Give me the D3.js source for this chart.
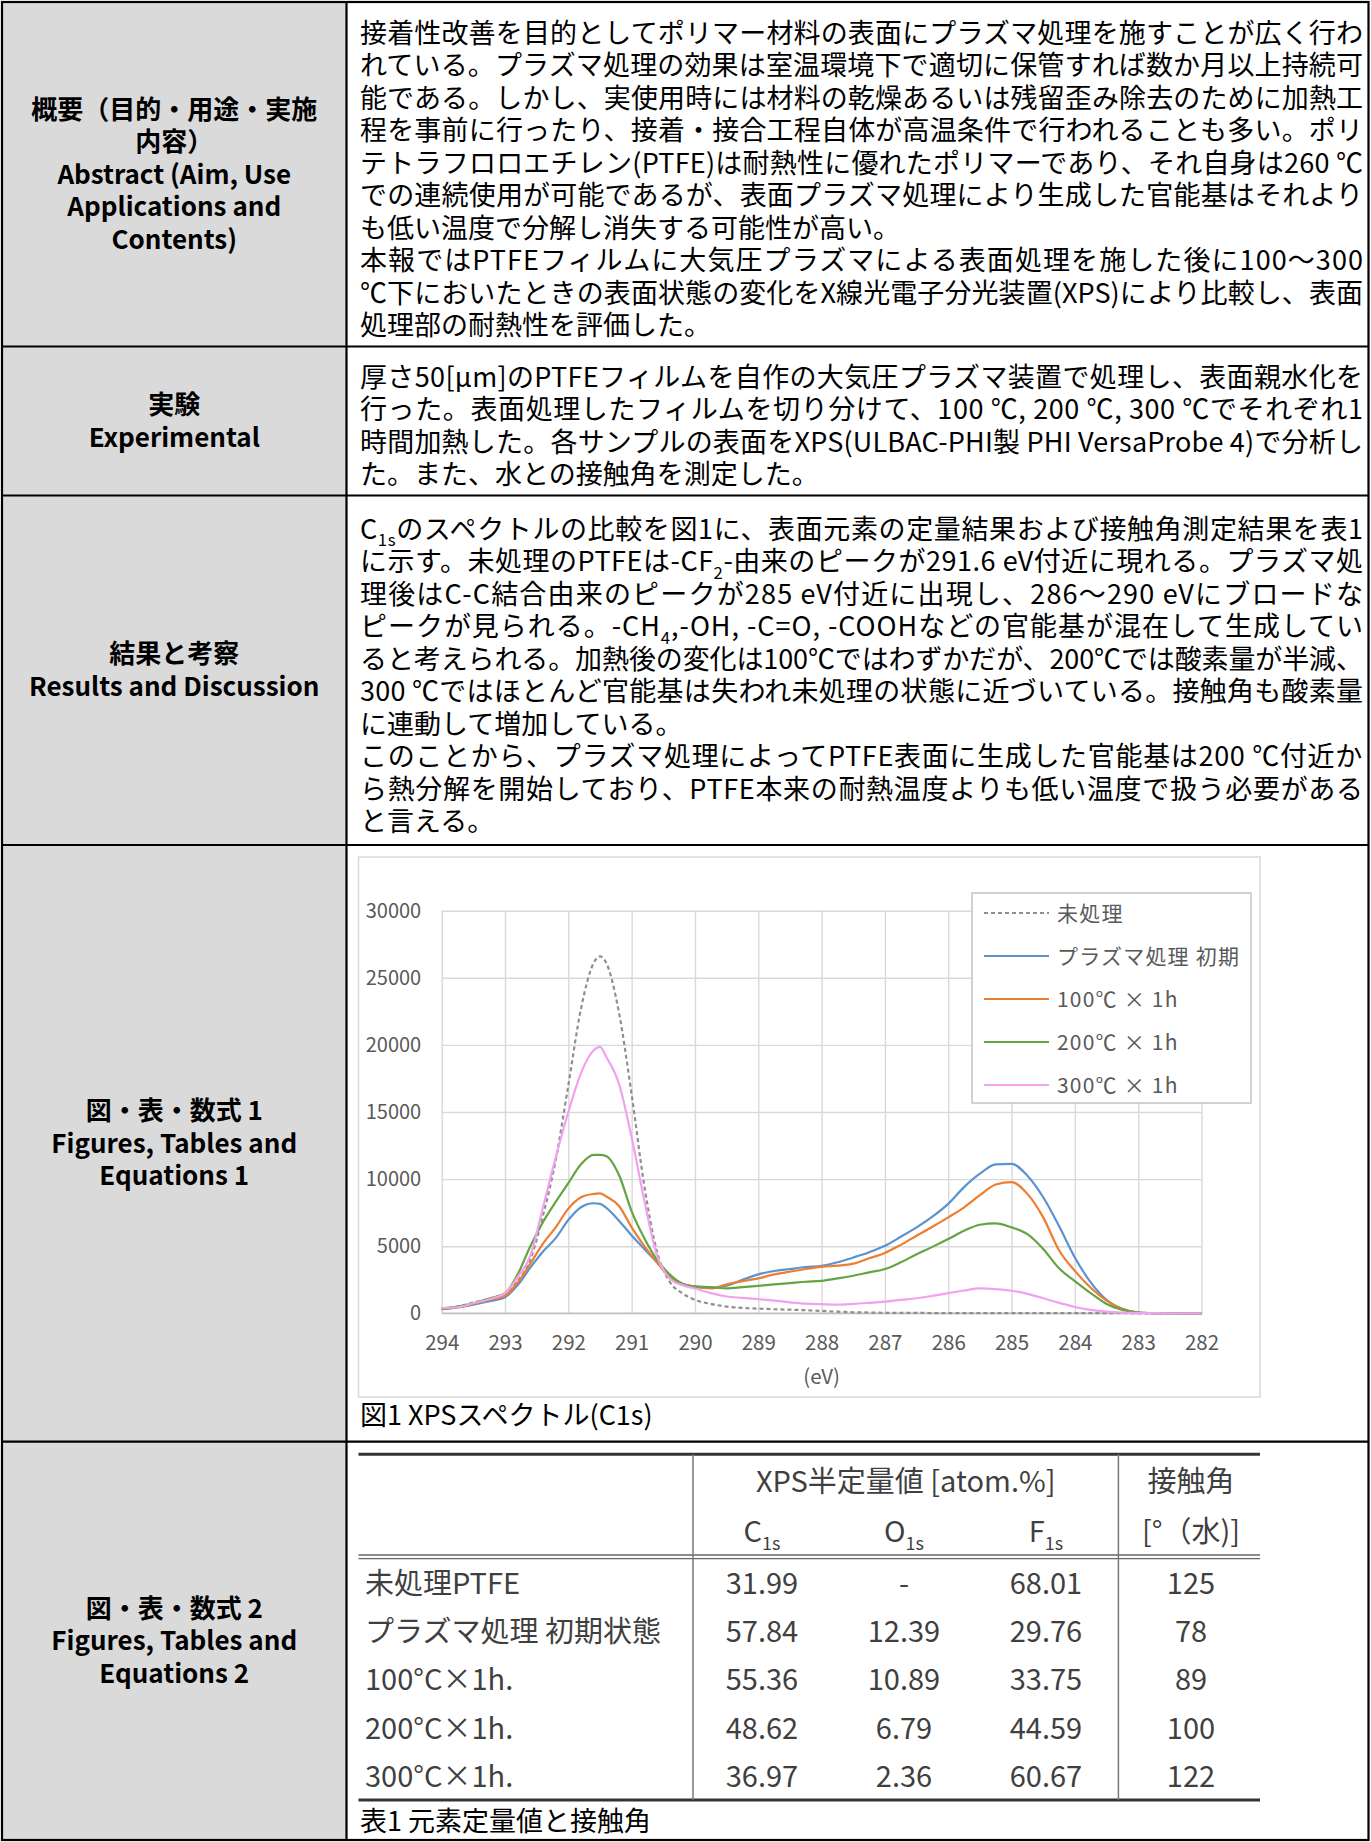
<!DOCTYPE html>
<html><head><meta charset="utf-8">
<script src="https://cdn.jsdelivr.net/npm/d3@7"></script>
<style>body{margin:0;background:#fff}svg{display:block}</style>
</head><body><script>
// ---------------- DATA ----------------
const energy = [294, 293.75, 293.5, 293.25, 293, 292.8, 292.6, 292.4, 292.2, 292, 291.8, 291.6, 291.5, 291.4, 291.2, 291, 290.8, 290.6, 290.4, 290.2, 290, 289.75, 289.5, 289.25, 289, 288.75, 288.5, 288.25, 288, 287.75, 287.5, 287.25, 287, 286.75, 286.5, 286.25, 286, 285.75, 285.5, 285.25, 285, 284.75, 284.5, 284.25, 284, 283.75, 283.5, 283.25, 283, 282.75, 282.5, 282.25, 282];
const untreated = [350, 500, 800, 1100, 1500, 2400, 4000, 7300, 11400, 17000, 22700, 26100, 26600, 26100, 22400, 16300, 9500, 4600, 2350, 1500, 1000, 700, 500, 400, 350, 300, 270, 230, 180, 120, 80, 60, 40, 30, 30, 20, 20, 20, 20, 20, 20, 20, 10, 10, 10, 10, 10, 10, 0, 0, 0, 0, 0];
const plasmaInitial = [300, 430, 650, 900, 1200, 2100, 3400, 4600, 5600, 6950, 7900, 8200, 8150, 7850, 6900, 5800, 4800, 3800, 2800, 2200, 1950, 1900, 2050, 2500, 2900, 3150, 3300, 3450, 3540, 3800, 4160, 4550, 5030, 5700, 6400, 7200, 8150, 9400, 10400, 11100, 11140, 10250, 8650, 6500, 4160, 2300, 1000, 330, 60, 20, 10, 0, 0];
const heat100 = [300, 450, 700, 1000, 1300, 2300, 3700, 5200, 6400, 7800, 8650, 8900, 8940, 8700, 8000, 6400, 5000, 3800, 2700, 2200, 2000, 1860, 2150, 2400, 2600, 2900, 3100, 3300, 3460, 3550, 3700, 4100, 4500, 5100, 5780, 6450, 7150, 7900, 8800, 9600, 9770, 8900, 7150, 4700, 3160, 1900, 950, 320, 60, 20, 10, 0, 0];
const heat200 = [350, 500, 750, 1100, 1500, 2900, 5000, 6800, 8300, 9700, 11100, 11800, 11800, 11700, 10300, 7600, 5600, 4000, 2900, 2200, 2000, 1950, 1850, 1950, 2050, 2150, 2250, 2350, 2420, 2600, 2800, 3050, 3300, 3800, 4400, 4950, 5530, 6150, 6600, 6700, 6400, 5900, 4800, 3350, 2400, 1500, 700, 250, 60, 20, 10, 0, 0];
const heat300 = [400, 450, 750, 1050, 1500, 2700, 4300, 7900, 11600, 15000, 17900, 19600, 19850, 19100, 17100, 13100, 8400, 4300, 2600, 2100, 1850, 1500, 1250, 1150, 1050, 950, 820, 720, 680, 650, 700, 780, 870, 1000, 1120, 1300, 1500, 1700, 1850, 1800, 1680, 1450, 1120, 780, 470, 260, 120, 50, 20, 10, 0, 0, 0];
const seriesNames = ["未処理", "プラズマ処理 初期", "100℃ × 1h", "200℃ × 1h", "300℃ × 1h"];
const xTickValues = [294, 293, 292, 291, 290, 289, 288, 287, 286, 285, 284, 283, 282];
const yTickValues = [0, 5000, 10000, 15000, 20000, 25000, 30000];
const xAxisTitle = "(eV)";
const figCaption = "図1 XPSスペクトル(C1s)";

const tableRowLabels = ["未処理PTFE", "プラズマ処理 初期状態", "100°C×1h.", "200°C×1h.", "300°C×1h."];
const c1s = [31.99, 57.84, 55.36, 48.62, 36.97];
const o1s = [null, 12.39, 10.89, 6.79, 2.36];
const f1s = [68.01, 29.76, 33.75, 44.59, 60.67];
const contactAngle = [125, 78, 89, 100, 122];
const tableHeaderTop = ["XPS半定量値 [atom.%]", "接触角"];
const tableHeaderSub = ["C_{1s}", "O_{1s}", "F_{1s}", "[°（水)]"];
const tableCaption = "表1 元素定量値と接触角";

const leftLabels = [
  ["概要（目的・用途・実施", "内容）", "Abstract (Aim, Use", "Applications and", "Contents)"],
  ["実験", "Experimental"],
  ["結果と考察", "Results and Discussion"],
  ["図・表・数式 1", "Figures, Tables and", "Equations 1"],
  ["図・表・数式 2", "Figures, Tables and", "Equations 2"]
];
const abstractParas = [
  ["接着性改善を目的としてポリマー材料の表面にプラズマ処理を施すことが広く行わ",
   "れている。プラズマ処理の効果は室温環境下で適切に保管すれば数か月以上持続可",
   "能である。しかし、実使用時には材料の乾燥あるいは残留歪み除去のために加熱工",
   "程を事前に行ったり、接着・接合工程自体が高温条件で行われることも多い。ポリ",
   "テトラフロロエチレン(PTFE)は耐熱性に優れたポリマーであり、それ自身は260 ℃",
   "での連続使用が可能であるが、表面プラズマ処理により生成した官能基はそれより",
   "も低い温度で分解し消失する可能性が高い。"],
  ["本報ではPTFEフィルムに大気圧プラズマによる表面処理を施した後に100～300",
   "℃下においたときの表面状態の変化をX線光電子分光装置(XPS)により比較し、表面",
   "処理部の耐熱性を評価した。"]
];
const experimentalParas = [
  ["厚さ50[μm]のPTFEフィルムを自作の大気圧プラズマ装置で処理し、表面親水化を",
   "行った。表面処理したフィルムを切り分けて、100 ℃, 200 ℃, 300 ℃でそれぞれ1",
   "時間加熱した。各サンプルの表面をXPS(ULBAC-PHI製 PHI VersaProbe 4)で分析し",
   "た。また、水との接触角を測定した。"]
];
const resultsParas = [
  ["C_{1s}のスペクトルの比較を図1に、表面元素の定量結果および接触角測定結果を表1",
   "に示す。未処理のPTFEは-CF_{2}-由来のピークが291.6 eV付近に現れる。プラズマ処",
   "理後はC-C結合由来のピークが285 eV付近に出現し、286～290 eVにブロードな",
   "ピークが見られる。-CH_{4},-OH, -C=O, -COOHなどの官能基が混在して生成してい",
   "ると考えられる。加熱後の変化は100℃ではわずかだが、200℃では酸素量が半減、",
   "300 ℃ではほとんど官能基は失われ未処理の状態に近づいている。接触角も酸素量",
   "に連動して増加している。"],
  ["このことから、プラズマ処理によってPTFE表面に生成した官能基は200  ℃付近か",
   "ら熱分解を開始しており、PTFE本来の耐熱温度よりも低い温度で扱う必要がある",
   "と言える。"]
];

// ---------------- LAYOUT ----------------
const W = 1371, H = 1842;
const FONT = "'Noto Sans CJK JP','Noto Sans',sans-serif";
const rowLines = [2, 346.5, 495.5, 845, 1441.7, 1840];
const leftX = 2, colX = 346.5, rightX = 1368.5;
const textX = 360, textRight = 1363, fsBody = 27, lineGap = 32.5;

const svg = d3.select("body").append("svg").attr("width", W).attr("height", H)
  .style("font-family", FONT);

svg.append("rect").attr("x", leftX).attr("y", rowLines[0]).attr("width", colX - leftX)
  .attr("height", rowLines[5] - rowLines[0]).attr("fill", "#dadada");

function addRich(g, str, x, cy, fs, opt) {
  opt = opt || {};
  const t = g.append("text").attr("x", x).attr("y", cy + 0.36 * fs)
    .style("font-size", fs + "px").attr("fill", opt.fill || "#000");
  if (opt.anchor) t.attr("text-anchor", opt.anchor);
  if (opt.weight) t.style("font-weight", opt.weight);
  if (opt.ls) t.style("letter-spacing", opt.ls + "px");
  const re = /_\{([^}]*)\}/g;
  let last = 0, m, pending = 0, plain = "";
  const sh = fs * 0.28;
  while ((m = re.exec(str)) !== null) {
    if (m.index > last) {
      const s = str.slice(last, m.index);
      const ts = t.append("tspan").text(s);
      if (pending) { ts.attr("dy", -pending); pending = 0; }
      plain += s;
    }
    t.append("tspan").text(m[1]).style("font-size", (fs * 0.62) + "px").attr("dy", sh);
    pending = sh; plain += m[1];
    last = re.lastIndex;
  }
  if (last < str.length) {
    const s = str.slice(last);
    const ts = t.append("tspan").text(s);
    if (pending) ts.attr("dy", -pending);
    plain += s;
  }
  if (opt.justifyTo) {
    const nat = t.node().getComputedTextLength();
    const n = Array.from(plain).length;
    const ls = (opt.justifyTo - x - nat) / (n - 1);
    t.style("letter-spacing", ls + "px");
  }
  return t;
}

function bodyBlock(paras, rowIdx) {
  const g = svg.append("g");
  const lines = [];
  paras.forEach(p => p.forEach((l, i) => lines.push({ s: l, just: i < p.length - 1 })));
  const cy0 = (rowLines[rowIdx] + rowLines[rowIdx + 1]) / 2 + 5 - (lines.length - 1) / 2 * lineGap;
  lines.forEach((l, i) => addRich(g, l.s, textX, cy0 + i * lineGap, fsBody,
    { justifyTo: l.just ? textRight : null }));
}
bodyBlock(abstractParas, 0);
bodyBlock(experimentalParas, 1);
bodyBlock(resultsParas, 2);

leftLabels.forEach((lab, r) => {
  const g = svg.append("g");
  const c = (rowLines[r] + rowLines[r + 1]) / 2 - (lab.length - 1) / 2 * lineGap;
  lab.forEach((s, i) => addRich(g, s, (leftX + colX) / 2, c + i * lineGap, 26,
    { anchor: "middle", weight: "bold" }));
});

// borders
const bg = svg.append("g").attr("stroke", "#000").attr("stroke-width", 2.2).attr("fill", "none");
bg.append("rect").attr("x", leftX).attr("y", rowLines[0]).attr("width", rightX - leftX).attr("height", rowLines[5] - rowLines[0]);
bg.append("line").attr("x1", colX).attr("x2", colX).attr("y1", rowLines[0]).attr("y2", rowLines[5]);
rowLines.slice(1, 5).forEach(yy => bg.append("line").attr("x1", leftX).attr("x2", rightX).attr("y1", yy).attr("y2", yy));

// ---------------- CHART ----------------
const cg = svg.append("g");
cg.append("rect").attr("x", 358.5).attr("y", 857).attr("width", 901.5).attr("height", 540)
  .attr("fill", "#fff").attr("stroke", "#d9d9d9").attr("stroke-width", 1.5);

const x = d3.scaleLinear().domain([294, 282]).range([441.7, 1201.5]);
const y = d3.scaleLinear().domain([0, 30000]).range([1313.3, 910.7]);

const gY = cg.append("g").attr("transform", `translate(${x(294)},0)`)
  .call(d3.axisLeft(y).tickValues(yTickValues).tickSize(-(x(282) - x(294))).tickPadding(20.5).tickFormat(d3.format("d")));
gY.select(".domain").remove();
gY.selectAll("line").attr("stroke", "#d9d9d9").attr("stroke-width", 1.4);
gY.selectAll("text").attr("fill", "#595959").style("font-size", "20px").style("font-family", FONT);

const gX = cg.append("g").attr("transform", `translate(0,${y(0)})`)
  .call(d3.axisBottom(x).tickValues(xTickValues).tickSize(-(y(0) - y(30000))).tickPadding(20).tickFormat(d3.format("d")));
gX.select(".domain").remove();
gX.selectAll("line").attr("stroke", "#d9d9d9").attr("stroke-width", 1.4);
gX.selectAll("text").attr("fill", "#595959").style("font-size", "20.5px").style("font-family", FONT)
  .attr("dy", null).attr("y", 37);

cg.append("line").attr("x1", x(294)).attr("x2", x(282)).attr("y1", y(0)).attr("y2", y(0))
  .attr("stroke", "#bfbfbf").attr("stroke-width", 1.5);

cg.append("text").attr("x", (x(294) + x(282)) / 2).attr("y", 1376 + 7.5).attr("text-anchor", "middle")
  .attr("fill", "#595959").style("font-size", "20.5px").text(xAxisTitle);

const seriesValues = [untreated, plasmaInitial, heat100, heat200, heat300];
const seriesStyle = [
  { color: "#8f8f8f", dash: "4,3" },
  { color: "#5b93cf", dash: null },
  { color: "#ed7d31", dash: null },
  { color: "#63a443", dash: null },
  { color: "#f0a2ee", dash: null }
];
const line = d3.line().x(d => x(d[0])).y(d => y(d[1])).curve(d3.curveMonotoneX);
seriesValues.forEach((vals, i) => {
  const pts = energy.map((e, k) => [e, vals[k]]);
  cg.append("path").attr("d", line(pts)).attr("fill", "none")
    .attr("stroke", seriesStyle[i].color).attr("stroke-width", 2.2)
    .attr("stroke-dasharray", seriesStyle[i].dash).attr("stroke-linejoin", "round");
});

// legend
const lg = cg.append("g");
lg.append("rect").attr("x", 972).attr("y", 893).attr("width", 279).attr("height", 210)
  .attr("fill", "#fff").attr("stroke", "#c4c4c4").attr("stroke-width", 1.5);
seriesNames.forEach((nm, i) => {
  const cy = 913 + i * 43;
  lg.append("line").attr("x1", 984).attr("x2", 1049).attr("y1", cy).attr("y2", cy)
    .attr("stroke", seriesStyle[i].color).attr("stroke-width", 2.2).attr("stroke-dasharray", seriesStyle[i].dash);
  lg.append("text").attr("x", 1057).attr("y", cy + 0.36 * 21).attr("fill", "#595959")
    .style("font-size", "21px").style("letter-spacing", "1.2px").text(nm);
});

addRich(svg.append("g"), figCaption, 360, 1415.5, 27, {});

// ---------------- TABLE ----------------
const tg = svg.append("g");
const tL = 358.5, tR = 1260, tTop = 1454.3, tBot = 1800;
const vLines = [693, 1118.4];
const colCenters = [762, 904, 1046, 1191];
const tFs = 29, tFill = "#3f3f3f";
tg.append("line").attr("x1", tL).attr("x2", tR).attr("y1", tTop).attr("y2", tTop).attr("stroke", "#333").attr("stroke-width", 3);
[1555, 1558.6].forEach(yy => tg.append("line").attr("x1", tL).attr("x2", tR).attr("y1", yy).attr("y2", yy).attr("stroke", "#666").attr("stroke-width", 1.4));
tg.append("line").attr("x1", tL).attr("x2", tR).attr("y1", tBot).attr("y2", tBot).attr("stroke", "#333").attr("stroke-width", 3);
vLines.forEach(xx => tg.append("line").attr("x1", xx).attr("x2", xx).attr("y1", tTop).attr("y2", tBot).attr("stroke", "#777").attr("stroke-width", 1.5));

addRich(tg, tableHeaderTop[0], (vLines[0] + vLines[1]) / 2, 1481.7, tFs, { anchor: "middle", fill: tFill });
addRich(tg, tableHeaderTop[1], colCenters[3], 1481.7, tFs, { anchor: "middle", fill: tFill });
tableHeaderSub.forEach((s, i) => addRich(tg, s, colCenters[i], 1531.7, tFs, { anchor: "middle", fill: tFill }));

const fmt = d3.format(".2f");
tableRowLabels.forEach((lab, r) => {
  const cy = 1583.3 + r * 48.35;
  addRich(tg, lab, 365, cy, tFs, { fill: tFill });
  const cells = [fmt(c1s[r]), o1s[r] == null ? "-" : fmt(o1s[r]), fmt(f1s[r]), String(contactAngle[r])];
  cells.forEach((c, i) => addRich(tg, c, colCenters[i], cy, tFs, { anchor: "middle", fill: tFill }));
});
addRich(svg.append("g"), tableCaption, 360, 1821.7, 27, {});
</script></body></html>
